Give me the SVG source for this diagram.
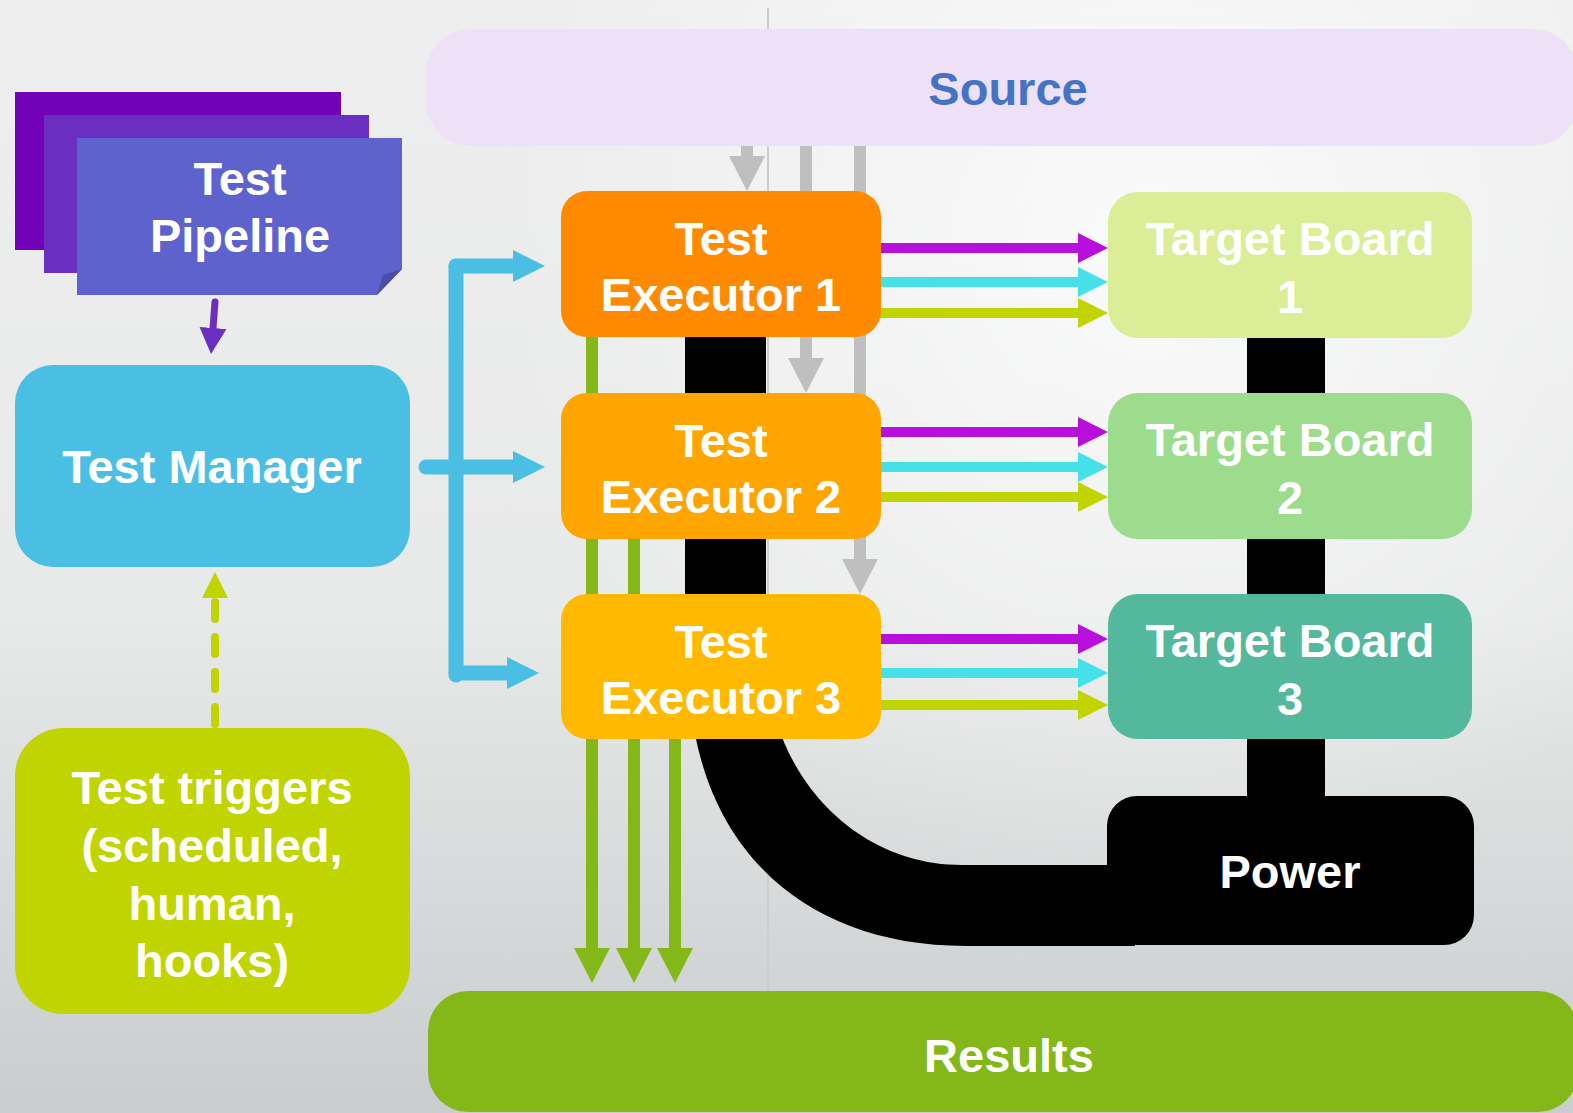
<svg xmlns="http://www.w3.org/2000/svg" width="1573" height="1113" viewBox="0 0 1573 1113">
  <defs>
    <linearGradient id="bg" x1="0" y1="0" x2="0" y2="1">
      <stop offset="0" stop-color="#eeeeee"/>
      <stop offset="0.55" stop-color="#e8e9e9"/>
      <stop offset="1" stop-color="#c9cdce"/>
    </linearGradient>
    <radialGradient id="glow" gradientUnits="userSpaceOnUse" cx="1150" cy="250" r="650">
      <stop offset="0" stop-color="#ffffff" stop-opacity="0.75"/>
      <stop offset="1" stop-color="#ffffff" stop-opacity="0"/>
    </radialGradient>
    <marker id="m-mag" viewBox="0 0 30 30" refX="0" refY="15" markerWidth="30" markerHeight="30" markerUnits="userSpaceOnUse" orient="auto"><path d="M0,0 L30,15 L0,30 Z" fill="#b90fdd"/></marker>
    <marker id="m-cyan" viewBox="0 0 30 30" refX="0" refY="15" markerWidth="30" markerHeight="30" markerUnits="userSpaceOnUse" orient="auto"><path d="M0,0 L30,15 L0,30 Z" fill="#45e0e8"/></marker>
    <marker id="m-lime" viewBox="0 0 30 30" refX="0" refY="15" markerWidth="30" markerHeight="30" markerUnits="userSpaceOnUse" orient="auto"><path d="M0,0 L30,15 L0,30 Z" fill="#c0d400"/></marker>
    <marker id="m-gray" viewBox="0 0 35 36" refX="0" refY="18" markerWidth="35" markerHeight="36" markerUnits="userSpaceOnUse" orient="auto"><path d="M0,0 L35,18 L0,36 Z" fill="#bfbfbf"/></marker>
    <marker id="m-green" viewBox="0 0 35 36" refX="0" refY="18" markerWidth="35" markerHeight="36" markerUnits="userSpaceOnUse" orient="auto"><path d="M0,0 L35,18 L0,36 Z" fill="#84b819"/></marker>
    <marker id="m-blue" viewBox="0 0 32 32" refX="0" refY="16" markerWidth="32" markerHeight="32" markerUnits="userSpaceOnUse" orient="auto"><path d="M0,0 L32,16 L0,32 Z" fill="#4bbfe3"/></marker>
    <marker id="m-purple" viewBox="0 0 26 27" refX="0" refY="13.5" markerWidth="26" markerHeight="27" markerUnits="userSpaceOnUse" orient="auto"><path d="M0,0 L26,13.5 L0,27 Z" fill="#6a2fc1"/></marker>
    <marker id="m-trig" viewBox="0 0 26 26" refX="0" refY="13" markerWidth="26" markerHeight="26" markerUnits="userSpaceOnUse" orient="auto"><path d="M0,0 L26,13 L0,26 Z" fill="#c0d400"/></marker>
  </defs>
  <style>
    .lbl { font-family: "Liberation Sans", Arial, sans-serif; font-weight: bold; font-size: 47px; fill: #ffffff; text-anchor: middle; }
    .src { fill: #4472c4; }
    .mag { stroke: #b90fdd; stroke-width: 10; fill: none; marker-end: url(#m-mag); }
    .cyan { stroke: #45e0e8; stroke-width: 10; fill: none; marker-end: url(#m-cyan); }
    .lime { stroke: #c0d400; stroke-width: 10; fill: none; marker-end: url(#m-lime); }
    .gray { stroke: #bfbfbf; stroke-width: 12; fill: none; marker-end: url(#m-gray); }
    .green { stroke: #84b819; stroke-width: 12; fill: none; marker-end: url(#m-green); }
    .blue { stroke: #4bbfe3; stroke-width: 15; fill: none; stroke-linecap: round; }
    .blue-arrow { marker-end: url(#m-blue); }
    .cable { fill: #000000; }
  </style>

  <!-- backdrop -->
  <rect x="0" y="0" width="1573" height="1113" fill="url(#bg)"/>
  <rect x="0" y="0" width="1573" height="1113" fill="url(#glow)"/>
  <line x1="768" y1="8" x2="768" y2="1000" stroke="#cdcdcd" stroke-width="2"/>

  <g id="connectors">
    <!-- power cabling -->
    <rect class="cable" x="685" y="320" width="81" height="290"/>
    <rect class="cable" x="1247" y="320" width="78" height="490"/>
    <path class="cable" d="M690,700 C705,855 810,946 966,946 L1135,946 L1135,865 L962,865 C870,865 800,800 776,720 Z"/>

    <!-- source fetches -->
    <line class="gray" x1="747" y1="140" x2="747" y2="156"/>
    <line class="gray" x1="806" y1="140" x2="806" y2="358"/>
    <line class="gray" x1="860" y1="140" x2="860" y2="559"/>

    <!-- results uploads -->
    <line class="green" x1="592" y1="330" x2="592" y2="948"/>
    <line class="green" x1="634" y1="530" x2="634" y2="948"/>
    <line class="green" x1="675" y1="730" x2="675" y2="948"/>

    <!-- executor to board links -->
    <line class="mag" x1="876" y1="248" x2="1078" y2="248"/>
    <line class="cyan" x1="876" y1="282" x2="1078" y2="282"/>
    <line class="lime" x1="876" y1="313" x2="1078" y2="313"/>
    <line class="mag" x1="876" y1="432" x2="1078" y2="432"/>
    <line class="cyan" x1="876" y1="467" x2="1078" y2="467"/>
    <path class="lime" d="M878,497 H1078" stroke-linecap="round"/>
    <line class="mag" x1="876" y1="639" x2="1078" y2="639"/>
    <line class="cyan" x1="876" y1="673" x2="1078" y2="673"/>
    <line class="lime" x1="876" y1="705" x2="1078" y2="705"/>

    <!-- manager dispatch bracket -->
    <line class="blue" x1="456" y1="266" x2="456" y2="675"/>
    <path class="blue blue-arrow" d="M456,266 H513" stroke-linecap="butt"/>
    <path class="blue blue-arrow" d="M426,467 H513" />
    <path class="blue blue-arrow" d="M456,673 H507" stroke-linecap="butt"/>

    <!-- pipeline to manager -->
    <path d="M215,302 L213,328" stroke="#6a2fc1" stroke-width="7" stroke-linecap="round" fill="none" marker-end="url(#m-purple)"/>

    <!-- triggers to manager -->
    <path d="M215,724 V598" stroke="#c0d400" stroke-width="8" stroke-linecap="round" stroke-dasharray="17 18" fill="none" marker-end="url(#m-trig)"/>
  </g>

  <g id="source">
    <rect x="426" y="29" width="1152" height="117" rx="45" fill="#ede0f7"/>
    <text class="lbl src" x="1008" y="105">Source</text>
  </g>

  <g id="test-pipeline">
    <rect x="15" y="92" width="326" height="158" fill="#7202b7"/>
    <rect x="44" y="115" width="325" height="158" fill="#6a2fc1"/>
    <path d="M77,138 H402 V269 L377,295 H77 Z" fill="#5e62cd"/>
    <path d="M402,269 L377,295 L383,275 Z" fill="#4a4fa5"/>
    <text class="lbl" x="240" y="195">Test</text>
    <text class="lbl" x="240" y="252">Pipeline</text>
  </g>

  <g id="test-manager">
    <rect x="15" y="365" width="395" height="202" rx="38" fill="#4bbfe3"/>
    <text class="lbl" x="212" y="483">Test Manager</text>
  </g>

  <g id="test-triggers">
    <rect x="15" y="728" width="395" height="286" rx="48" fill="#c0d400"/>
    <text class="lbl" x="212" y="804">Test triggers</text>
    <text class="lbl" x="212" y="862">(scheduled,</text>
    <text class="lbl" x="212" y="920">human,</text>
    <text class="lbl" x="212" y="977">hooks)</text>
  </g>

  <g id="test-executor-1">
    <rect x="561" y="191" width="320" height="146" rx="26" fill="#ff8a00"/>
    <text class="lbl" x="721" y="255">Test</text>
    <text class="lbl" x="721" y="311">Executor 1</text>
  </g>
  <g id="test-executor-2">
    <rect x="561" y="393" width="320" height="146" rx="26" fill="#ffa500"/>
    <text class="lbl" x="721" y="457">Test</text>
    <text class="lbl" x="721" y="513">Executor 2</text>
  </g>
  <g id="test-executor-3">
    <rect x="561" y="594" width="320" height="145" rx="26" fill="#ffb900"/>
    <text class="lbl" x="721" y="658">Test</text>
    <text class="lbl" x="721" y="714">Executor 3</text>
  </g>

  <g id="target-board-1">
    <rect x="1108" y="192" width="364" height="146" rx="30" fill="#dbed96"/>
    <text class="lbl" x="1290" y="255">Target Board</text>
    <text class="lbl" x="1290" y="313">1</text>
  </g>
  <g id="target-board-2">
    <rect x="1108" y="393" width="364" height="146" rx="30" fill="#9ddc8d"/>
    <text class="lbl" x="1290" y="456">Target Board</text>
    <text class="lbl" x="1290" y="514">2</text>
  </g>
  <g id="target-board-3">
    <rect x="1108" y="594" width="364" height="145" rx="30" fill="#53b89c"/>
    <text class="lbl" x="1290" y="657">Target Board</text>
    <text class="lbl" x="1290" y="715">3</text>
  </g>

  <g id="power">
    <rect x="1107" y="796" width="367" height="149" rx="30" fill="#000000"/>
    <text class="lbl" x="1290" y="888">Power</text>
  </g>

  <g id="results">
    <rect x="428" y="991" width="1150" height="121" rx="40" fill="#84b819"/>
    <text class="lbl" x="1009" y="1072">Results</text>
  </g>
</svg>
